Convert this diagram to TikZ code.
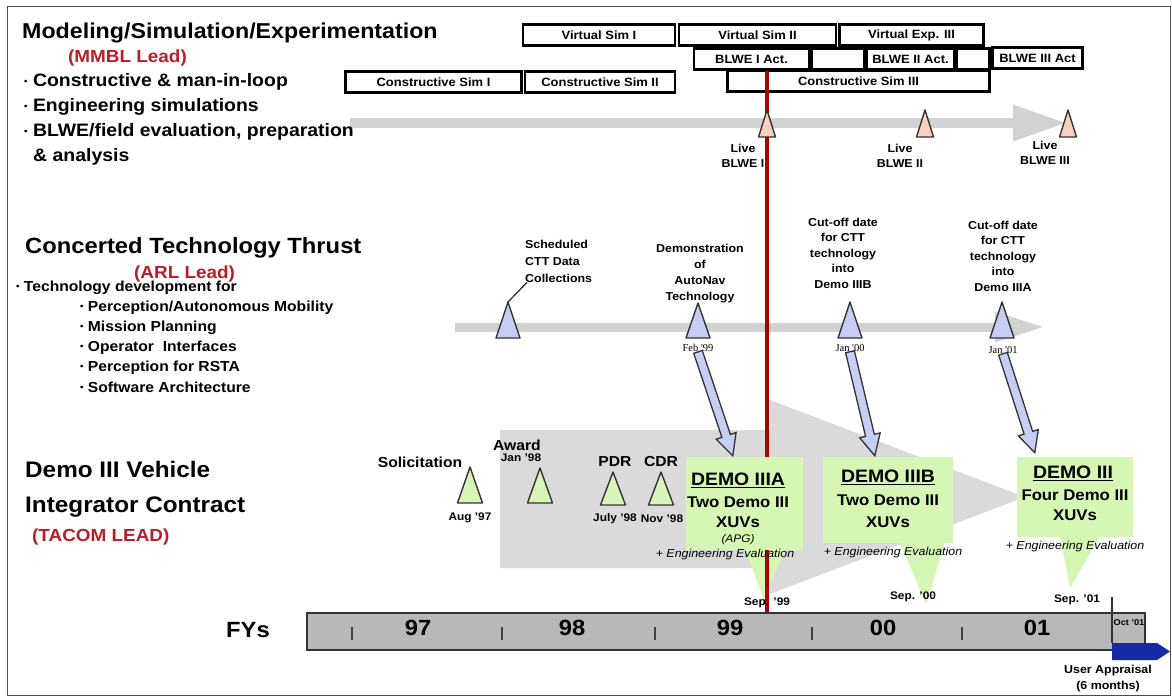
\documentclass[tikz,border=0pt]{standalone}
\usepackage{fontspec}
\setmainfont{Liberation Sans}[FakeStretch=1.08]
\newfontfamily\datefont{Liberation Serif}
\usepackage{xcolor}
\usepackage{tikz}
\usetikzlibrary{arrows.meta,positioning,calc}

\definecolor{leadred}{RGB}{185,30,40}
\definecolor{redline}{RGB}{175,0,0}
\definecolor{salmon}{RGB}{250,208,192}
\definecolor{lav}{RGB}{198,206,246}
\definecolor{trigreen}{RGB}{216,245,184}
\definecolor{demogreen}{RGB}{214,247,180}
\definecolor{trackgray}{RGB}{210,210,210}
\definecolor{demogray}{RGB}{218,218,218}
\definecolor{fygray}{RGB}{184,184,184}
\definecolor{apprblue}{RGB}{22,42,165}

% bullet dot
\newcommand{\bdot}{\raisebox{0.12em}{\fontsize{9}{9}\selectfont\textbullet}}

% triangle marker: style, name, x, tip y, base y, half width
\newcommand{\milestone}[6]{%
  \draw[#1] (#3,#4) -- (#3+#6,#5) -- (#3-#6,#5) -- cycle;
  \coordinate (#2) at (#3,#4);}

% outlined block arrow from #1 to #2
\newcommand{\hollowarrow}[2]{%
  \draw[hollow] let \p1=($(#2)-(#1)$), \n1={atan2(\y1,\x1)}, \n2={veclen(\x1,\y1)} in
    [shift={(#1)}, rotate=\n1]
    (0,-4.5) -- (\n2-21,-4.5) -- (\n2-21,-10.5) -- (\n2,0) -- (\n2-21,10.5) -- (\n2-21,4.5) -- (0,4.5) -- cycle;}

\begin{document}
\begin{tikzpicture}[x=1pt, y=-1pt,
    heading/.style={anchor=base west, inner sep=0, font=\bfseries\fontsize{22}{26}\selectfont},
    leadtext/.style={anchor=base west, inner sep=0, text=leadred, font=\bfseries\fontsize{17.5}{20}\selectfont},
    bigbullet/.style={anchor=base west, inner sep=0, font=\bfseries\fontsize{18}{21}\selectfont},
    smallbullet/.style={anchor=base west, inner sep=0, font=\bfseries\fontsize{14.5}{17}\selectfont},
    simbox/.style={draw, line width=2.4pt, inner sep=0, minimum height=21, font=\bfseries\fontsize{12}{14}\selectfont},
    note/.style={align=center, inner sep=0, font=\bfseries\fontsize{11.5}{15.5}\selectfont},
    mlabel/.style={inner sep=0, font=\bfseries\fontsize{14.5}{17}\selectfont},
    mdate/.style={inner sep=0, font=\bfseries\fontsize{11}{13}\selectfont},
    serifdate/.style={inner sep=0, font=\datefont\fontsize{10.5}{12}\selectfont},
    demobox/.style={fill=demogreen, inner sep=0},
    demotitle/.style={inner sep=0, font=\bfseries\fontsize{18}{21}\selectfont},
    demotext/.style={inner sep=0, font=\bfseries\fontsize{15.5}{18}\selectfont},
    evaltext/.style={inner sep=0, font=\itshape\fontsize{11.5}{13}\selectfont},
    fylabel/.style={inner sep=0, font=\bfseries\fontsize{22}{26}\selectfont},
    livetri/.style={draw=black!80, line width=1.4pt, fill=salmon, line join=round},
    ctttri/.style={draw=black!80, line width=1.4pt, fill=lav, line join=round},
    demotri/.style={draw=black!80, line width=1.4pt, fill=trigreen, line join=round},
    trackarrow/.style={line width=10pt, draw=trackgray},
    hollow/.style={draw=black!80, line width=1.3pt, fill=lav},
    fybar/.style={draw=black!80, line width=1.5pt, fill=fygray, inner sep=0}
  ]
    \useasboundingbox (0,0) rectangle (1172,698);
    \draw[black!70, line width=1pt] (7,7) rectangle (1170,695);

    % background bands
    \fill[demogray] (500,430) -- (770,430) -- (770,400) -- (1025,497) -- (770,594) -- (770,568) -- (500,568) -- cycle;
    \draw[trackarrow, -{Triangle[length=54pt, width=34pt]}] (350,123) -- (1067,123);
    \draw[trackarrow, line width=9pt, -{Triangle[length=50pt, width=28pt]}] (455,327) -- (1045,327);

    % left column
    \node[heading, font=\bfseries\fontsize{21.5}{25}\selectfont] (mstitle) at (22,39) {Modeling/Simulation/Experimentation};
    \node[leadtext] (mmbl) at (68,63) {(MMBL Lead)};
    \node[bigbullet] (msb1) at (24,87) {\bdot\ Constructive \& man-in-loop};
    \node[bigbullet] (msb2) at (24,112) {\bdot\ Engineering simulations};
    \node[bigbullet] (msb3) at (24,137) {\bdot\ BLWE/field evaluation, preparation};
    \node[bigbullet] (msb4) at (33,161) {\& analysis};

    \node[heading] (ctttitle) at (25,253) {Concerted Technology Thrust};
    \node[leadtext] (arl) at (134,278) {(ARL Lead)};
    \node[smallbullet] (ctb0) at (16,291) {\bdot\ Technology development for};
    \node[smallbullet] (ctb1) at (80,311) {\bdot\ Perception/Autonomous Mobility};
    \node[smallbullet] (ctb2) at (80,331) {\bdot\ Mission Planning};
    \node[smallbullet] (ctb3) at (80,351) {\bdot\ Operator\ \ Interfaces};
    \node[smallbullet] (ctb4) at (80,371) {\bdot\ Perception for RSTA};
    \node[smallbullet] (ctb5) at (80,392) {\bdot\ Software Architecture};

    \node[heading, font=\bfseries\fontsize{22.5}{26}\selectfont] (dvtitle1) at (25,477) {Demo III Vehicle};
    \node[heading, font=\bfseries\fontsize{22.5}{26}\selectfont] (dvtitle2) at (25,512) {Integrator Contract};
    \node[leadtext] (tacom) at (32,541) {(TACOM LEAD)};

    % simulation boxes
    \node[simbox, minimum width=152] (vsim1) at (599,35) {Virtual Sim I};
    \node[simbox, minimum width=157] (vsim2) at (757.5,35) {Virtual Sim II};
    \node[simbox, minimum width=144] (vexp3) at (911.5,35) {Virtual Exp. III};
    \node[simbox, minimum width=115] (blwe1) at (751.5,59) {BLWE I Act.};
    \node[simbox, minimum width=53] (gap1) at (838,59) {};
    \node[simbox, minimum width=88] (blwe2) at (910.5,59) {BLWE II Act.};
    \node[simbox, minimum width=33] (gap2) at (973,59) {};
    \node[simbox, minimum width=90] (blwe3) at (1037.5,58) {BLWE III Act};
    \node[simbox, minimum width=176] (csim1) at (433.5,82) {Constructive Sim I};
    \node[simbox, minimum width=150] (csim2) at (600,82) {Constructive Sim II};
    \node[simbox, minimum width=262] (csim3) at (858.5,81) {Constructive Sim III};

    % demo callouts
    \fill[demogreen] (745,549) -- (785,549) -- (764,600) -- cycle;
    \fill[demogreen] (900,542) -- (945,542) -- (926,604) -- cycle;
    \fill[demogreen] (1060,536) -- (1100,536) -- (1070,588) -- cycle;

    % timeline
    \node[fybar, minimum width=838, minimum height=37] (fybar) at (726,631.5) {};
    \fill[apprblue] (1112,643) -- (1157,643) -- (1170,651.5) -- (1157,660) -- (1112,660) -- cycle;
    \draw[black!80, line width=1.5pt] (1112,597) -- (1112,643);
    \foreach \tx in {352,502,655,812,962}
        \draw[black!75, line width=1.6pt] (\tx,627) -- (\tx,640);
    \node[fylabel] (fys) at (248,630) {FYs};
    \node[fylabel] (fy97) at (418,628) {97};
    \node[fylabel] (fy98) at (572,628) {98};
    \node[fylabel] (fy99) at (730,628) {99};
    \node[fylabel] (fy00) at (883,628) {00};
    \node[fylabel] (fy01) at (1037,628) {01};
    \node[inner sep=0, font=\bfseries\fontsize{8.5}{10}\selectfont] (oct01) at (1129,623) {Oct '01};
    \node[note, font=\bfseries\fontsize{11.5}{16}\selectfont] (appraisal) at (1108,678.5) {User Appraisal\\(6 months)};

    % BLWE milestones
    \milestone{livetri}{live2}{925}{110}{137}{8.5}
    \milestone{livetri}{live3}{1068}{110}{137}{8.5}
    \coordinate (live1) at (767,110);
    \draw[redline, line width=3.5pt] (blwe1.south -| live1) -- (live1 |- fybar.north);
    \milestone{livetri}{live1}{767}{110}{137}{8.5}
    \node[note] (livelab1) at (743,156) {Live\\BLWE I};
    \node[note] (livelab2) at (900,156) {Live\\BLWE II};
    \node[note] (livelab3) at (1045,153) {Live\\BLWE III};

    % CTT milestones
    \milestone{ctttri}{ctt1}{508}{302}{338}{12}
    \milestone{ctttri}{ctt2}{698}{303}{338}{12}
    \milestone{ctttri}{ctt3}{850}{302}{338}{12}
    \milestone{ctttri}{ctt4}{1002}{302}{338}{12}
    \node[note, align=left, anchor=west, font=\bfseries\fontsize{11.5}{17}\selectfont] (sched) at (525,261) {Scheduled\\CTT Data\\Collections};
    \draw[black!85, line width=1.2pt] (ctt1) -- ([xshift=2pt]sched.south west);
    \node[note, font=\bfseries\fontsize{11.5}{16}\selectfont] (autonav) at (700,274) {Demonstration\\of\\AutoNav\\Technology};
    \node[note] (cutB) at (843,253) {Cut-off date\\for CTT\\technology\\into\\Demo IIIB};
    \node[note] (cutA) at (1003,256) {Cut-off date\\for CTT\\technology\\into\\Demo IIIA};
    \node[serifdate] (feb) at (698,348) {Feb '99};
    \node[serifdate] (jan00) at (850,348) {Jan '00};
    \node[serifdate] (jan01) at (1003,350) {Jan '01};

    % contract milestones
    \milestone{demotri}{sol}{470}{467}{503}{12.5}
    \milestone{demotri}{award}{540}{468}{503}{12.5}
    \milestone{demotri}{pdr}{613}{472}{505}{12.5}
    \milestone{demotri}{cdr}{661}{472}{505}{12.5}
    \node[mlabel] (sollab) at (420,462) {Solicitation};
    \node[mlabel] (awardlab) at (517,445) {Award};
    \node[mdate] (awarddate) at (521,458) {Jan '98};
    \node[mlabel] (pdrlab) at (615,462) {PDR};
    \node[mlabel] (cdrlab) at (661,462) {CDR};
    \node[mdate] (aug97) at (470,518) {Aug '97};
    \node[mdate] (jul98) at (615,519) {July '98};
    \node[mdate] (nov98) at (662,519) {Nov '98};

    % demo boxes
    \node[demobox, minimum width=117, minimum height=93] (demoA) at (744.5,503.5) {};
    \node[demobox, minimum width=130, minimum height=86] (demoB) at (888,500) {};
    \node[demobox, minimum width=116, minimum height=80] (demoC) at (1075,497) {};
    \node[demotitle] (demoAt) at (738,480) {\underline{DEMO IIIA}};
    \node[demotext] (demoA1) at (738,502) {Two Demo III};
    \node[demotext] (demoA2) at (738,522) {XUVs};
    \node[evaltext, font=\itshape\fontsize{11}{13}\selectfont] (demoA3) at (738,540) {(APG)};
    \node[evaltext] (demoA4) at (725,555) {+ Engineering Evaluation};
    \node[demotitle] (demoBt) at (888,477) {\underline{DEMO IIIB}};
    \node[demotext] (demoB1) at (888,500) {Two Demo III};
    \node[demotext] (demoB2) at (888,522) {XUVs};
    \node[evaltext] (demoB3) at (893,553) {+ Engineering Evaluation};
    \node[demotitle] (demoCt) at (1073,473) {\underline{DEMO III}};
    \node[demotext] (demoC1) at (1075,495) {Four Demo III};
    \node[demotext] (demoC2) at (1075,515) {XUVs};
    \node[evaltext] (demoC3) at (1075,547) {+ Engineering Evaluation};
    \node[mdate] (sep99) at (767,603) {Sep. '99};
    \node[mdate] (sep00) at (913,597) {Sep. '00};
    \node[mdate] (sep01) at (1077,600) {Sep. '01};

    % technology feeds
    \coordinate (tipA) at ($(demoA.north west)+(47,-1)$);
    \coordinate (tipB) at ($(demoB.north west)+(52,-1)$);
    \coordinate (tipC) at ($(demoC.north west)+(18,-4)$);
    \hollowarrow{feb.south}{tipA}
    \hollowarrow{jan00.south}{tipB}
    \hollowarrow{jan01.south}{tipC}
\end{tikzpicture}
\end{document}
